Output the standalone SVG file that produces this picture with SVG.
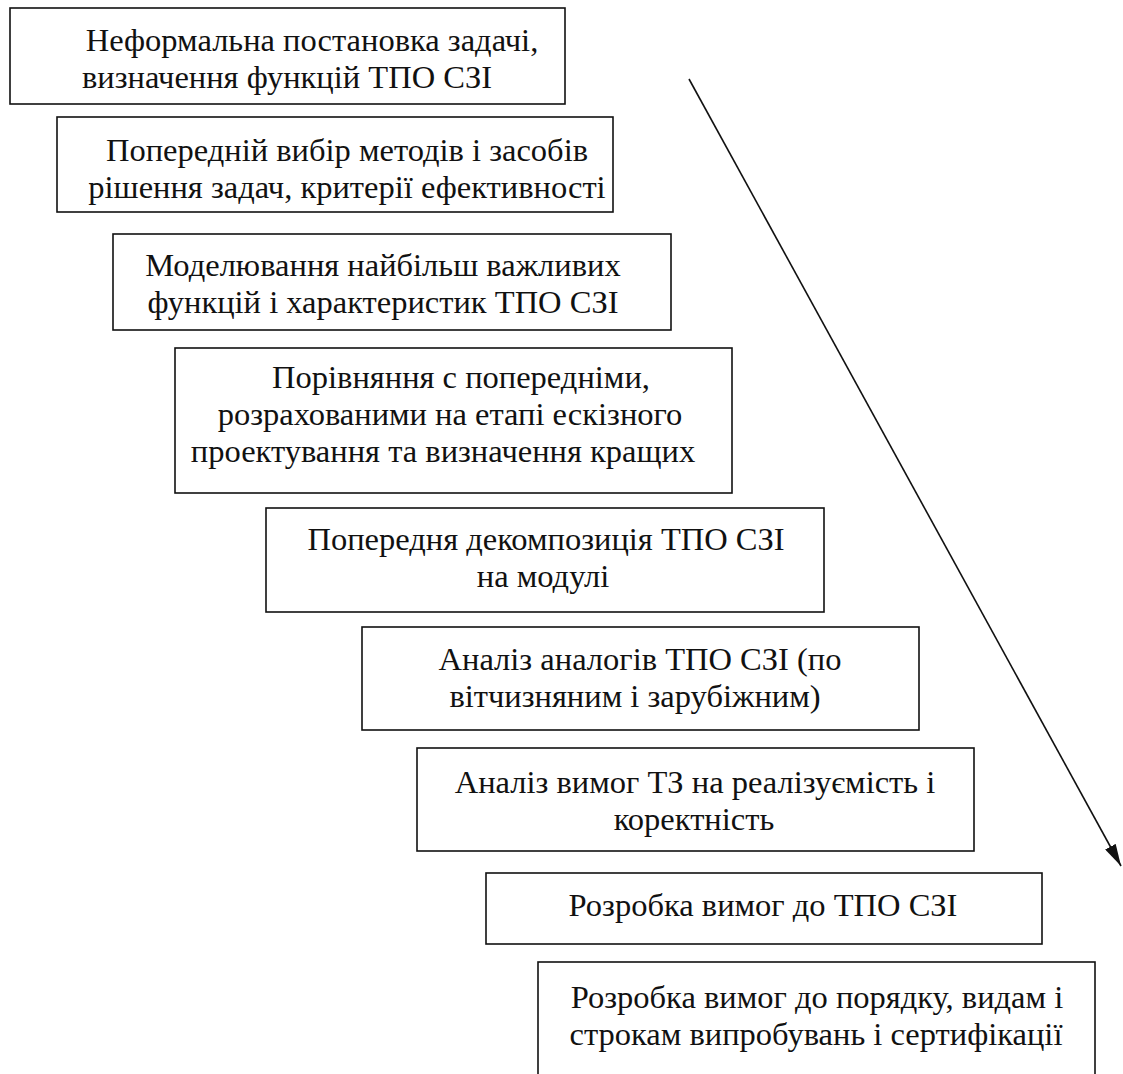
<svg xmlns="http://www.w3.org/2000/svg" width="1123" height="1074" viewBox="0 0 1123 1074">
<style>
.box{fill:#fff;stroke:#111;stroke-width:1.6}
.t{font-family:"Liberation Serif","Times New Roman","DejaVu Serif",serif;font-weight:normal;font-size:32.5px;fill:#111;text-anchor:middle}
.conn{stroke:#111;stroke-width:1.6;fill:none}
</style>
<defs>
<marker id="arrow" markerUnits="userSpaceOnUse" viewBox="0 0 22 12" refX="22" refY="6" markerWidth="22" markerHeight="12" orient="auto">
<path d="M0,0 L22,6 L0,12 z" fill="#111"/>
</marker>
</defs>
<rect width="1123" height="1074" fill="#fff"/>
<g id="connectors">
<line class="conn" x1="689" y1="79" x2="1121" y2="866" marker-end="url(#arrow)"/>
</g>
<g id="n1">
<rect class="box" x="10" y="8" width="555" height="96"/>
<text class="t" x="312" y="51">Неформальна постановка задачі,</text>
<text class="t" x="287" y="88">визначення функцій ТПО СЗІ</text>
</g>
<g id="n2">
<rect class="box" x="57" y="117" width="556" height="95"/>
<text class="t" x="347" y="161">Попередній вибір методів і засобів</text>
<text class="t" x="347" y="198">рішення задач, критерії ефективності</text>
</g>
<g id="n3">
<rect class="box" x="113" y="234" width="558" height="96"/>
<text class="t" x="383" y="276">Моделювання найбільш важливих</text>
<text class="t" x="383" y="313">функцій і характеристик ТПО СЗІ</text>
</g>
<g id="n4">
<rect class="box" x="175" y="348" width="557" height="145"/>
<text class="t" x="461" y="388">Порівняння с попередніми,</text>
<text class="t" x="450" y="425">розрахованими на етапі ескізного</text>
<text class="t" x="443" y="462">проектування та визначення кращих</text>
</g>
<g id="n5">
<rect class="box" x="266" y="508" width="558" height="104"/>
<text class="t" x="546" y="550">Попередня декомпозиція ТПО СЗІ</text>
<text class="t" x="543" y="587">на модулі</text>
</g>
<g id="n6">
<rect class="box" x="362" y="627" width="557" height="103"/>
<text class="t" x="640" y="670">Аналіз аналогів ТПО СЗІ (по</text>
<text class="t" x="635" y="707">вітчизняним і зарубіжним)</text>
</g>
<g id="n7">
<rect class="box" x="417" y="748" width="557" height="103"/>
<text class="t" x="695" y="793">Аналіз вимог ТЗ на реалізуємість і</text>
<text class="t" x="694" y="830">коректність</text>
</g>
<g id="n8">
<rect class="box" x="486" y="873" width="556" height="71"/>
<text class="t" x="763" y="916">Розробка вимог до ТПО СЗІ</text>
</g>
<g id="n9">
<rect class="box" x="538" y="962" width="557" height="130"/>
<text class="t" x="817" y="1008">Розробка вимог до порядку, видам і</text>
<text class="t" x="816" y="1045">строкам випробувань і сертифікації</text>
</g>
</svg>
